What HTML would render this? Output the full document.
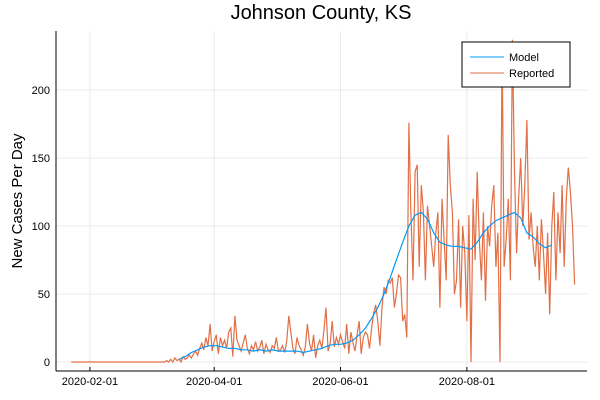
<!DOCTYPE html>
<html><head><meta charset="utf-8"><style>
body{margin:0;background:#fff}
svg{display:block;font-family:"Liberation Sans","DejaVu Sans",sans-serif}
</style></head><body>
<svg id="chart" width="600" height="400" xmlns="http://www.w3.org/2000/svg">
<rect width="600" height="400" fill="#fff"/>
<text x="321" y="19" font-size="20" text-anchor="middle">Johnson County, KS</text>
<text transform="translate(22,201) rotate(-90)" font-size="15" text-anchor="middle">New Cases Per Day</text>
<g id="grid"></g><g id="axes"></g><g id="series"></g>
<g>
<rect x="462" y="42" width="108" height="45" fill="#fff" stroke="#000" stroke-width="1"/>
<line x1="470" y1="57" x2="504" y2="57" stroke="#009af9" stroke-width="1"/>
<text x="509" y="61" font-size="11">Model</text>
<line x1="470" y1="73" x2="504" y2="73" stroke="#e26f46" stroke-width="1"/>
<text x="509" y="77" font-size="11">Reported</text>
</g>
</svg>
<script>
const reportedStartDay = 0; // day index 0 = 2020-01-23
const reported = [
0,0,0,0,0,0,0,0,0,0,0,0,0,0,0,0,0,0,0,0,0,0,0,0,0,0,0,0,0,0,0,0,0,0,0,0,0,0,0,0,0,0,0,0,0,
0,1,0,2,0,3,1,2,0,4,2,3,5,
3,6,8,5,10,14,9,18,12,28,8,15,20,6,18,12,16,10,22,25,4,34,16,12,8,14,20,10,6,12,9,15,8,11,16,6,13,9,7,12,10,18,8,
9,12,7,15,34,22,10,6,18,12,9,5,11,28,14,8,20,3,12,16,10,24,40,8,14,30,11,18,13,20,
15,10,28,6,22,14,8,20,30,6,18,22,20,10,25,36,42,30,12,40,55,50,60,58,62,40,50,64,62,30,35,18,176,
110,60,140,145,70,130,110,60,115,100,85,70,95,110,40,120,90,60,
167,
130,110,50,60,105,40,100,80,30,108,
0,
120,75,140,90,60,110,45,100,85,115,130,70,95,
0,235,70,90,120,60,237,140,80,120,150,100,130,178,
90,110,85,70,100,60,105,80,50,95,35,
100,125,60,110,80,130,70,120,143,125,100,57];
const modelStartDay = 52, modelStep = 3;
const model = [2,4,7,9,11,12,12,11,10,10,9,9,8,9,8,9,8,8,8,8,7,8,9,10,12,13,13,14,16,20,25,32,40,50,62,75,88,100,108,110,105,95,88,86,85,85,84,83,88,95,100,104,106,108,110,106,95,92,87,84,86];
const yTicks = [0,50,100,150,200];
const xTickLabels = ["2020-02-01","2020-04-01","2020-06-01","2020-08-01"];
const xTickDays = [9,69,130,191];

const X = d => 71.3 + d*2.071;
const Y = v => 362 - v*1.36;
const NS="http://www.w3.org/2000/svg";
function mk(tag, attrs, parent){const e=document.createElementNS(NS,tag);for(const k in attrs)e.setAttribute(k,attrs[k]);parent.appendChild(e);return e;}
const grid=document.getElementById('grid'), axes=document.getElementById('axes'), series=document.getElementById('series');
yTicks.forEach(v=>{
  const g=mk('line',{x1:56,x2:587,y1:Y(v),y2:Y(v),stroke:'#000','stroke-opacity':0.08,'stroke-width':1},grid);
  
  
  const t=mk('text',{x:50,y:Y(v)+4,'font-size':11,'text-anchor':'end'},axes);
  t.textContent=v;
  
  
});
xTickDays.forEach((d,i)=>{
  const g=mk('line',{x1:X(d),x2:X(d),y1:31,y2:371,stroke:'#000','stroke-opacity':0.08,'stroke-width':1},grid);
  
  
  mk('line',{x1:X(d),x2:X(d),y1:371,y2:367,stroke:'#000'},axes);
  const t=mk('text',{x:X(d),y:385,'font-size':11,'text-anchor':'middle'},axes);
  t.textContent=xTickLabels[i];
  
  
});
const xa=mk('line',{x1:56,x2:587,y1:371,y2:371,stroke:'#000'},axes);


const ya=mk('line',{x1:56,x2:56,y1:31,y2:371,stroke:'#000'},axes);


const rp=reported.map((v,i)=>X(reportedStartDay+i).toFixed(1)+','+Y(v).toFixed(1)).join(' ');
const r=mk('polyline',{points:rp,fill:'none',stroke:'#e26f46','stroke-width':1.2},series);


const mp=model.map((v,i)=>X(modelStartDay+i*modelStep).toFixed(1)+','+Y(v).toFixed(1)).join(' ');
const m=mk('polyline',{points:mp,fill:'none',stroke:'#009af9','stroke-width':1.2},series);


</script>
</body></html>
